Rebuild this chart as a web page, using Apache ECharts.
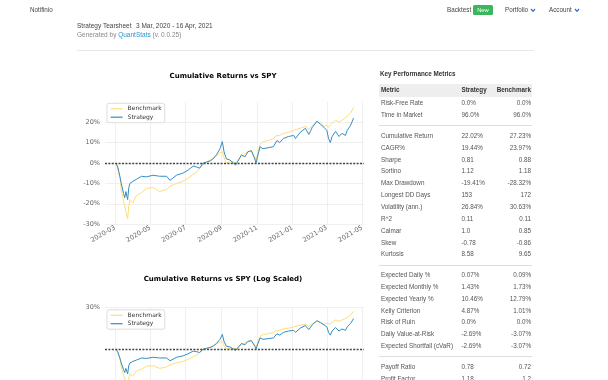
<!DOCTYPE html>
<html><head><meta charset="utf-8">
<script src="https://cdn.jsdelivr.net/npm/echarts@6/dist/echarts.min.js"></script>
<style>
html,body{margin:0;padding:0;background:#fff;width:608px;height:380px;overflow:hidden;font-family:"Liberation Sans",Arial,sans-serif;}
#chart{position:absolute;left:0;top:0;width:608px;height:460px;}
.t{position:absolute;white-space:nowrap;font-size:6.3px;line-height:8px;height:8px;color:#444;}
.hr{position:absolute;height:1px;background:#e6e6e6;}
.badge{position:absolute;background:#3cb65a;color:#fff;font-size:5.8px;line-height:10px;height:10px;width:20px;text-align:center;border-radius:1.5px;}
.r{text-align:right;}
</style></head><body>
<div id="chart"></div>
<div id="page"></div>
<script>
// ---------- DATA ----------
const dates = ['2020-03-03','2020-03-06','2020-03-10','2020-03-12','2020-03-16','2020-03-18','2020-03-20','2020-03-23','2020-03-25','2020-03-27',
'2020-04-01','2020-04-07','2020-04-16','2020-04-24','2020-05-06','2020-05-17','2020-05-29','2020-06-04','2020-06-15','2020-06-26',
'2020-07-05','2020-07-14','2020-07-20','2020-07-25','2020-07-31','2020-08-06','2020-08-12','2020-08-17','2020-08-23','2020-08-29',
'2020-09-02','2020-09-05','2020-09-09','2020-09-15','2020-09-21','2020-09-25','2020-09-30','2020-10-05','2020-10-11','2020-10-16',
'2020-10-22','2020-10-28','2020-10-30','2020-11-06','2020-11-11','2020-11-20','2020-11-29','2020-12-05','2020-12-10','2020-12-16',
'2020-12-25','2021-01-03','2021-01-06','2021-01-14','2021-01-23','2021-01-29','2021-02-04','2021-02-12','2021-02-18','2021-02-24',
'2021-03-01','2021-03-04','2021-03-07','2021-03-10','2021-03-16','2021-03-22','2021-03-27','2021-04-02','2021-04-05','2021-04-11','2021-04-16'];
const strategyPct = [0,-2,-7,-10,-15,-17,-14,-18,-12,-10,
-9,-8,-6.5,-6.8,-6,-6.5,-6.5,-8.5,-6,-5,
-3.5,-1.5,-2,-2.5,0,0.5,1,2,4,7,
10.5,5.5,2,1.5,0,-1,1.5,4,3,5.5,
6,2,0,8,7,7.5,8,11,10,12,
13,13.5,12,15,17,14,17.5,20.5,19,17.5,
16,12,10,13,15.5,13,14.5,13.5,16,18.5,22.02];
const benchmarkPct = [0,-3,-8,-13,-19,-21,-24,-27.3,-21,-18,
-19.5,-16,-14.5,-12.5,-12,-14,-13,-11.5,-10,-9,
-7.5,-5.5,-4.5,-2.5,-1,0.5,1.5,2.5,3.5,5,
5.5,2.5,0,0.5,0.5,0,1.5,3,4.5,5.5,
6,3,1.5,9,10.5,11,12,13.5,13.5,14.5,
15,16,15.5,17,18,16.5,18.5,20,19.5,18,
18.5,17.5,18,19.5,21,20,21,22,23,24.5,27.23];
const xTickDates = ['2020-03-01','2020-05-01','2020-07-01','2020-09-01','2020-11-01','2021-01-01','2021-03-01','2021-05-01'];
const xRange = ['2020-02-13','2021-05-04'];
const yTicksLinear = [-30,-20,-10,0,10,20];
const yTicksLog = [30];
const seriesNames = ['Benchmark','Strategy'];
const chartTitles = ['Cumulative Returns vs SPY','Cumulative Returns vs SPY (Log Scaled)'];
const metricsTitle = 'Key Performance Metrics';
const metricsHeader = ['Metric','Strategy','Benchmark'];
const metricsGroup1 = [['Risk-Free Rate','0.0%','0.0%'],['Time in Market','96.0%','96.0%']];
const metricsGroup2 = [['Cumulative Return','22.02%','27.23%'],['CAGR%','19.44%','23.97%'],['Sharpe','0.81','0.88'],['Sortino','1.12','1.18'],
['Max Drawdown','-19.41%','-28.32%'],['Longest DD Days','153','172'],['Volatility (ann.)','26.84%','30.63%'],['R^2','0.11','0.11'],
['Calmar','1.0','0.85'],['Skew','-0.78','-0.86'],['Kurtosis','8.58','9.65']];
const metricsGroup3 = [['Expected Daily %','0.07%','0.09%'],['Expected Monthly %','1.43%','1.73%'],['Expected Yearly %','10.46%','12.79%'],
['Kelly Criterion','4.87%','1.01%'],['Risk of Ruin','0.0%','0.0%'],['Daily Value-at-Risk','-2.69%','-3.07%'],['Expected Shortfall (cVaR)','-2.69%','-3.07%']];
const metricsGroup4 = [['Payoff Ratio','0.78','0.72'],['Profit Factor','1.18','1.2']];

// ---------- PAGE (HTML text) ----------
const page = document.getElementById('page');
function addText(txt, x, yc, opts) {
  opts = opts || {};
  const d = document.createElement('div');
  d.className = 't' + (opts.right ? ' r' : '');
  if (opts.right) { d.style.right = (608 - x) + 'px'; } else { d.style.left = x + 'px'; }
  d.style.top = (yc - 4) + 'px';
  if (opts.html) d.innerHTML = txt; else d.textContent = txt;
  if (opts.color) d.style.color = opts.color;
  if (opts.bold) d.style.fontWeight = 'bold';
  if (opts.size) d.style.fontSize = opts.size + 'px';
  page.appendChild(d);
  return d;
}
function addHr(x, y, w, color) {
  const d = document.createElement('div');
  d.className = 'hr';
  d.style.left = x + 'px'; d.style.top = y + 'px'; d.style.width = w + 'px';
  if (color) d.style.background = color;
  page.appendChild(d);
}
function chevron(x, yc) {
  const s = document.createElementNS('http://www.w3.org/2000/svg', 'svg');
  s.setAttribute('width', '6'); s.setAttribute('height', '5');
  s.style.position = 'absolute'; s.style.left = x + 'px'; s.style.top = (yc - 2) + 'px';
  s.innerHTML = '<polyline points="1,1 3,3.4 5,1" fill="none" stroke="#2d6fc0" stroke-width="1.2"/>';
  page.appendChild(s);
}
addText('Notifinio', 30, 9.5);
addText('Backtest', 447, 9.5);
const b = document.createElement('div'); b.className = 'badge'; b.textContent = 'New';
b.style.left = '473px'; b.style.top = '4.5px'; page.appendChild(b);
addText('Portfolio', 505, 9.5); chevron(530, 9.5);
addText('Account', 549, 9.5); chevron(574, 9.5);
addText('Strategy Tearsheet', 77, 25.7, {size: 6.5});
addText('3 Mar, 2020 - 16 Apr, 2021', 136, 25.7, {size: 6.5});
addText('Generated by <span style="color:#2b93d1">QuantStats</span> (v. 0.0.25)', 77, 34.5, {html: true, color: '#888', size: 6.5});
addHr(77, 50, 457, '#e8e8e8');

// metrics table
addText(metricsTitle, 380, 74, {bold: true, color: '#333'});
const hdrBg = document.createElement('div');
hdrBg.style.cssText = 'position:absolute;left:379px;top:84px;width:153px;height:12.7px;background:#eeeeee;';
page.appendChild(hdrBg);
addText(metricsHeader[0], 381, 90.3, {bold: true, color: '#333'});
addText(metricsHeader[1], 461.5, 90.3, {bold: true, color: '#333'});
addText(metricsHeader[2], 531, 90.3, {bold: true, color: '#333', right: true});
const groups = [metricsGroup1, metricsGroup2, metricsGroup3, metricsGroup4];
let yc = 103.3;
const pitch = 11.85;
groups.forEach((g, gi) => {
  g.forEach((row, ri) => {
    addText(row[0], 381, yc, {color: '#555'});
    addText(row[1], 461.5, yc, {color: '#555'});
    addText(row[2], 531, yc, {color: '#555', right: true});
    if (ri < g.length - 1) yc += pitch;
  });
  if (gi < groups.length - 1) {
    addHr(379, yc + 10.2, 153, '#dddddd');
    yc += 20.7;
  }
});

// ---------- CHART ----------
const ts = d => +new Date(d + 'T00:00:00');
const chart = echarts.init(document.getElementById('chart'), null, {renderer: 'canvas'});
const stratData = dates.map((d, i) => [ts(d), strategyPct[i]]);
const benchData = dates.map((d, i) => [ts(d), benchmarkPct[i]]);
const xTickValues = xTickDates.map(ts);
const COLORS = {Benchmark: '#fedd78', Strategy: '#348dc1'};
const FONT = 'DejaVu Sans';
const grids = [
  {left: 105, top: 101.8, width: 259, height: 122.4, outerBoundsMode: 'none', containLabel: false},
  {left: 105, top: 307.5, width: 259, height: 83, outerBoundsMode: 'none', containLabel: false}
];
function xAxis(gi) {
  return {
    type: 'value', gridIndex: gi, min: ts(xRange[0]), max: ts(xRange[1]),
    axisLine: {show: false}, axisTick: {show: false, customValues: xTickValues},
    axisLabel: {show: true, customValues: xTickValues, rotate: 30, fontSize: 6.5, color: '#666', fontFamily: FONT, margin: 3,
      formatter: v => { const dt = new Date(v); return dt.getFullYear() + '-' + String(dt.getMonth() + 1).padStart(2, '0'); }},
    splitLine: {show: true, lineStyle: {color: '#ececec', width: 0.8}}
  };
}
function yAxis(gi, ticks) {
  return {
    type: 'value', gridIndex: gi, min: -30, max: 30, interval: 10,
    axisLine: {show: false}, axisTick: {show: false, customValues: ticks},
    axisLabel: {customValues: ticks, fontSize: 6.5, color: '#666', fontFamily: FONT, margin: 5, formatter: v => v + '%'},
    splitLine: {show: true, lineStyle: {color: '#ececec', width: 0.8}}
  };
}
function lineSeries(name, data, gi, withZero) {
  const s = {
    name: name, type: 'line', xAxisIndex: gi, yAxisIndex: gi, data: data,
    symbol: 'none', showSymbol: false, smooth: false,
    lineStyle: {color: COLORS[name], width: 1}, itemStyle: {color: COLORS[name]},
    z: name === 'Strategy' ? 3 : 2
  };
  if (withZero) {
    s.markLine = {silent: true, symbol: 'none', label: {show: false},
      lineStyle: {color: '#444', type: [2, 1.4], width: 1.3}, data: [{yAxis: 0}], z: 4};
  }
  return s;
}
function legend(gi, top) {
  return {
    data: seriesNames, orient: 'vertical', left: 107, top: top,
    itemWidth: 12, itemHeight: 7, itemGap: 2.4, padding: [2.5, 3],
    itemStyle: {color: 'rgba(0,0,0,0)', borderWidth: 0, opacity: 0},
    lineStyle: {width: 1.2},
    backgroundColor: '#fff', borderColor: '#d4d4d4', borderWidth: 0.8, borderRadius: 2,
    textStyle: {fontSize: 6, color: '#333', fontFamily: FONT}
  };
}
chart.setOption({
  animation: false,
  textStyle: {fontFamily: FONT},
  title: [
    {text: chartTitles[0], left: 223, top: 72.5, padding: 0, textAlign: 'center', textStyle: {fontSize: 7, fontWeight: 'bold', color: '#000', fontFamily: FONT}},
    {text: chartTitles[1], left: 223, top: 275.8, padding: 0, textAlign: 'center', textStyle: {fontSize: 7, fontWeight: 'bold', color: '#000', fontFamily: FONT}}
  ],
  legend: [legend(0, 103.3), legend(1, 309.8)],
  grid: grids,
  xAxis: [xAxis(0), xAxis(1)],
  yAxis: [yAxis(0, yTicksLinear), yAxis(1, yTicksLog)],
  series: [
    lineSeries('Benchmark', benchData, 0, false),
    lineSeries('Strategy', stratData, 0, true),
    lineSeries('Benchmark', benchData, 1, false),
    lineSeries('Strategy', stratData, 1, true)
  ]
});
</script>
</body></html>
